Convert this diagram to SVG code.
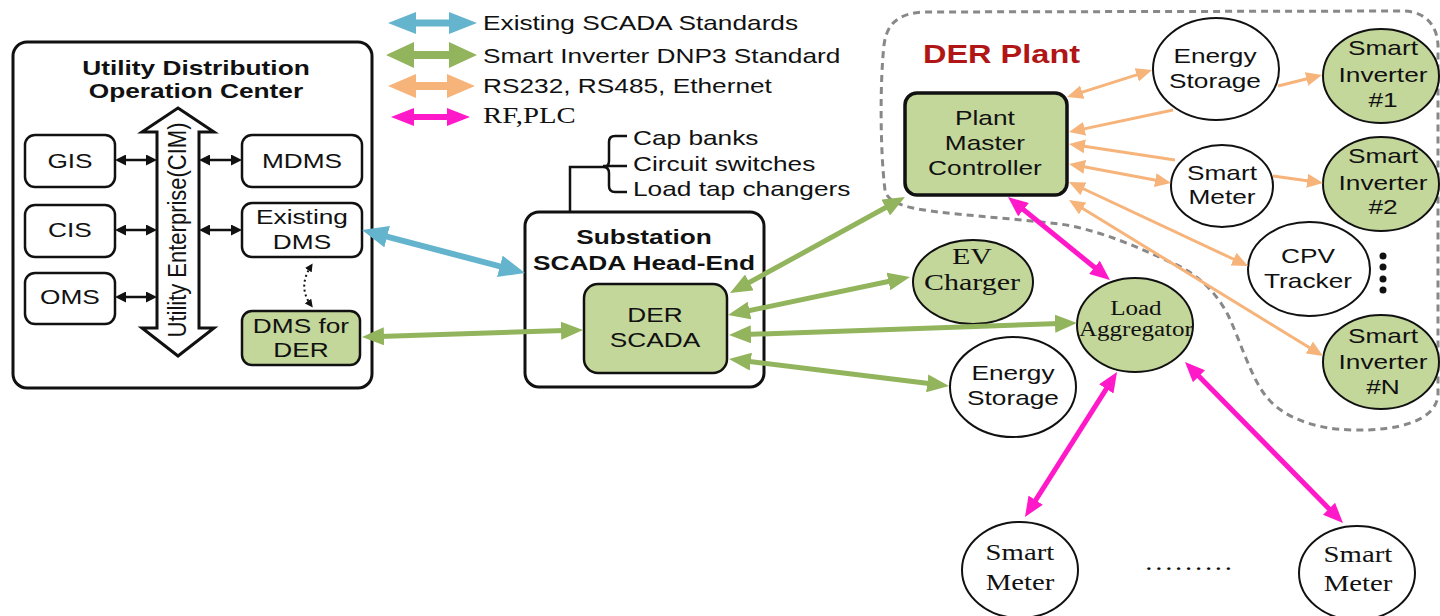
<svg xmlns="http://www.w3.org/2000/svg" width="1440" height="616" viewBox="0 0 1440 616">
<style>
.t{font-family:"Liberation Sans",Arial,sans-serif;font-size:21px;fill:#111;text-anchor:middle}
.l{text-anchor:start}
.b{font-weight:bold}
.sf{font-family:"Liberation Serif","Times New Roman",serif}
.sx{transform:scaleX(1.25);transform-box:fill-box;transform-origin:center}
.sxl{transform:scaleX(1.25);transform-box:fill-box;transform-origin:left center}
.box{fill:#fff;stroke:#111;stroke-width:2.5}
.gbox{fill:#c4d79b;stroke:#111;stroke-width:2.5}
.ell{fill:#fff;stroke:#111;stroke-width:2}
.gell{fill:#c4d79b;stroke:#111;stroke-width:2}
.blue{stroke:#64b4cd;stroke-width:6;fill:none;marker-start:url(#mb);marker-end:url(#mb)}
.green{stroke:#92b45c;stroke-width:5;fill:none;marker-start:url(#mg);marker-end:url(#mg)}
.or{stroke:#f6b47b;stroke-width:3;fill:none;marker-end:url(#mo)}
.or2{marker-start:url(#mo)}
.mag{stroke:#ff19c8;stroke-width:5;fill:none;marker-start:url(#mm);marker-end:url(#mm)}
.blk{stroke:#111;stroke-width:2.5;fill:none;marker-start:url(#mk);marker-end:url(#mk)}
</style>
<defs>
<marker id="mb" markerUnits="userSpaceOnUse" markerWidth="26" markerHeight="22" viewBox="0 0 26 22" refX="14" refY="11" orient="auto-start-reverse"><path d="M0,0 L26,11 L0,22 Z" fill="#64b4cd"/></marker>
<marker id="mg" markerUnits="userSpaceOnUse" markerWidth="22" markerHeight="18" viewBox="0 0 22 18" refX="12" refY="9" orient="auto-start-reverse"><path d="M0,0 L22,9 L0,18 Z" fill="#92b45c"/></marker>
<marker id="mo" markerUnits="userSpaceOnUse" markerWidth="16" markerHeight="14" viewBox="0 0 16 14" refX="9" refY="7" orient="auto-start-reverse"><path d="M0,0 L16,7 L0,14 Z" fill="#f6b47b"/></marker>
<marker id="mm" markerUnits="userSpaceOnUse" markerWidth="20" markerHeight="17" viewBox="0 0 20 17" refX="11" refY="8.5" orient="auto-start-reverse"><path d="M0,0 L20,8.5 L0,17 Z" fill="#ff19c8"/></marker>
<marker id="mk" markerUnits="userSpaceOnUse" markerWidth="11" markerHeight="11" viewBox="0 0 11 11" refX="6" refY="5.5" orient="auto-start-reverse"><path d="M0,0 L11,5.5 L0,11 Z" fill="#111"/></marker>
<marker id="md" markerUnits="userSpaceOnUse" markerWidth="8" markerHeight="8" viewBox="0 0 8 8" refX="5" refY="4" orient="auto-start-reverse"><path d="M0,0 L8,4 L0,8 Z" fill="#111"/></marker>
</defs>
<rect width="1440" height="616" fill="#fff"/>

<g id="legend">
<polygon fill="#64b4cd" points="388,23 416,12 416,19.5 449,19.5 449,12 477,23 449,34 449,26.5 416,26.5 416,34"/>
<polygon fill="#92b45c" points="386,55 414,42 414,51 449,51 449,42 477,55 449,68 449,59 414,59 414,68"/>
<polygon fill="#f6b47b" points="388,86 416,74 416,82 447,82 447,74 475,86 447,98 447,90 416,90 416,98"/>
<polygon fill="#ff19c8" points="391,117 414,108 414,114 447,114 447,108 470,117 447,126 447,120 414,120 414,126"/>
<text class="t l sxl" x="483" y="30">Existing SCADA Standards</text>
<text class="t l sxl" x="483" y="63">Smart Inverter DNP3 Standard</text>
<text class="t l sxl" x="483" y="93">RS232, RS485, Ethernet</text>
<text class="t l sf sxl" x="483" y="123" style="font-size:23px">RF,PLC</text>
</g>

<g id="der-plant-boundary">
<path d="M885,190 C880,150 880,80 884,45 C887,22 900,13 925,12 L1405,11 C1425,12 1437,25 1438,45 L1438,395 C1436,420 1400,431 1353,430 C1310,429 1280,415 1265,395 C1250,375 1240,340 1228,315 C1215,290 1195,272 1170,262 C1140,248 1100,230 1060,224 C1010,218 940,214 913,208 C895,204 886,198 885,190 Z" fill="none" stroke="#888" stroke-width="3" stroke-dasharray="7 5"/>
<text class="t l b sxl" x="923" y="63" style="font-size:26px;fill:#b11616">DER Plant</text>
</g>

<g id="utility-center">
<rect x="13" y="42" width="359" height="346" rx="14" fill="#fff" stroke="#111" stroke-width="3"/>
<text class="t b sx" x="196" y="75">Utility Distribution</text>
<text class="t b sx" x="196" y="98">Operation Center</text>
</g>
<g id="enterprise-bus">
<polygon points="178,108 214,132 199,132 199,328 214,328 178,356 142,328 157,328 157,132 142,132" fill="#fff" stroke="#111" stroke-width="3" stroke-linejoin="miter"/>
<text class="t" transform="translate(186,230) rotate(-90) scale(1,1.2)" x="0" y="0" style="font-size:22px">Utility Enterprise(CIM)</text>
</g>
<g id="gis"><rect class="box" x="25" y="135" width="90" height="52" rx="10"/><text class="t sx" x="70" y="168">GIS</text></g>
<g id="cis"><rect class="box" x="25" y="205" width="90" height="52" rx="10"/><text class="t sx" x="70" y="237">CIS</text></g>
<g id="oms"><rect class="box" x="25" y="273" width="90" height="51" rx="10"/><text class="t sx" x="70" y="304">OMS</text></g>
<g id="mdms"><rect class="box" x="242" y="135" width="120" height="52" rx="10"/><text class="t sx" x="302" y="168">MDMS</text></g>
<g id="existing-dms"><rect class="box" x="242" y="203" width="120" height="54" rx="10"/><text class="t sx" x="302" y="224">Existing</text><text class="t sx" x="302" y="249">DMS</text></g>
<g id="dms-for-der"><rect class="gbox" x="242" y="311" width="118" height="54" rx="10"/><text class="t sx" x="301" y="333">DMS for</text><text class="t sx" x="301" y="357">DER</text></g>

<g id="substation">
<rect x="525" y="212" width="239" height="175" rx="14" fill="#fff" stroke="#111" stroke-width="3"/>
<text class="t b sx" x="644" y="244">Substation</text>
<text class="t b sx" x="644" y="270">SCADA Head-End</text>
</g>
<g id="der-scada"><rect class="gbox" x="584" y="284" width="143" height="89" rx="14"/><text class="t sx" x="655" y="322">DER</text><text class="t sx" x="655" y="347">SCADA</text></g>

<g id="field-devices">
<path d="M570,212 L570,167 L603,167 M627,136 L615,136 Q609,136 609,142 L609,161 Q609,167 603,167 Q609,167 609,173 L609,186 Q609,192 615,192 L627,192 M603,166 L627,166" fill="none" stroke="#111" stroke-width="2.5"/>
<text class="t l sxl" x="633" y="145">Cap banks</text>
<text class="t l sxl" x="633" y="171">Circuit switches</text>
<text class="t l sxl" x="633" y="196">Load tap changers</text>
</g>

<g id="plant-master-controller"><rect x="905" y="93" width="162" height="102" rx="12" fill="#c4d79b" stroke="#111" stroke-width="3.5"/><text class="t sx" x="985" y="125">Plant</text><text class="t sx" x="985" y="150">Master</text><text class="t sx" x="985" y="175">Controller</text></g>
<g id="energy-storage-plant"><ellipse class="ell" cx="1216" cy="69" rx="63" ry="51"/><text class="t sx" x="1215" y="63">Energy</text><text class="t sx" x="1215" y="88">Storage</text></g>
<g id="smart-inverter-1"><ellipse class="gell" cx="1381" cy="76" rx="58" ry="47"/><text class="t sx" x="1383" y="55">Smart</text><text class="t sx" x="1383" y="82">Inverter</text><text class="t sx" x="1383" y="107">#1</text></g>
<g id="smart-meter-plant"><ellipse class="ell" cx="1222" cy="186" rx="51" ry="41"/><text class="t sx" x="1222" y="180">Smart</text><text class="t sx" x="1222" y="204">Meter</text></g>
<g id="smart-inverter-2"><ellipse class="gell" cx="1381" cy="184" rx="58" ry="47"/><text class="t sx" x="1383" y="163">Smart</text><text class="t sx" x="1383" y="190">Inverter</text><text class="t sx" x="1383" y="214">#2</text></g>
<g id="cpv-tracker"><ellipse class="ell" cx="1309" cy="269" rx="61" ry="47"/><text class="t sx" x="1308" y="263">CPV</text><text class="t sx" x="1308" y="288">Tracker</text></g>
<g id="ellipsis-dots" fill="#111"><circle cx="1383" cy="256" r="3.5"/><circle cx="1383" cy="267" r="3.5"/><circle cx="1383" cy="279" r="3.5"/><circle cx="1383" cy="290" r="3.5"/></g>
<g id="smart-inverter-n"><ellipse class="gell" cx="1381" cy="362" rx="58" ry="47"/><text class="t sx" x="1383" y="343">Smart</text><text class="t sx" x="1383" y="369">Inverter</text><text class="t sx" x="1383" y="394">#N</text></g>

<g id="ev-charger"><ellipse class="gell" cx="973" cy="282" rx="60" ry="42"/><text class="t sf sx" x="972" y="264" style="font-size:24px">EV</text><text class="t sf sx" x="972" y="290" style="font-size:24px">Charger</text></g>
<g id="load-aggregator"><ellipse class="gell" cx="1135" cy="325" rx="58" ry="47"/><text class="t sf sx" x="1136" y="315" style="font-size:20px">Load</text><text class="t sf sx" x="1136" y="336" style="font-size:20px">Aggregator</text></g>
<g id="energy-storage"><ellipse class="ell" cx="1013" cy="387" rx="63" ry="50"/><text class="t sx" x="1013" y="380">Energy</text><text class="t sx" x="1013" y="405">Storage</text></g>
<g id="smart-meter-1"><ellipse class="ell" cx="1020" cy="570" rx="58" ry="48"/><text class="t sf sx" x="1020" y="560" style="font-size:23px">Smart</text><text class="t sf sx" x="1020" y="590" style="font-size:23px">Meter</text></g>
<g id="smart-meter-n"><ellipse class="ell" cx="1357" cy="573" rx="58" ry="47"/><text class="t sf sx" x="1358" y="562" style="font-size:23px">Smart</text><text class="t sf sx" x="1358" y="591" style="font-size:23px">Meter</text></g>
<text class="t sf sx" x="1190" y="570" style="font-size:23px;letter-spacing:2.2px">.........</text>

<g id="connectors">
<line class="blk" x1="120" y1="160" x2="152" y2="160"/>
<line class="blk" x1="120" y1="230" x2="152" y2="230"/>
<line class="blk" x1="120" y1="297" x2="152" y2="297"/>
<line class="blk" x1="204" y1="160" x2="237" y2="160"/>
<line class="blk" x1="204" y1="230" x2="237" y2="230"/>
<path d="M311,266 C302,280 302,293 311,305" fill="none" stroke="#111" stroke-width="2" stroke-dasharray="2 3" marker-start="url(#md)" marker-end="url(#md)"/>
<line class="blue" x1="373.6" y1="233.1" x2="513.4" y2="269.9"/>
<line class="green" x1="372" y1="336.7" x2="573" y2="330.3"/>
<line class="green" x1="738.8" y1="288.2" x2="896.2" y2="201.8"/>
<line class="green" x1="737.8" y1="313" x2="900.2" y2="279"/>
<line class="green" x1="739" y1="334.7" x2="1067" y2="323.3"/>
<line class="green" x1="738.9" y1="360.2" x2="939.1" y2="384.8"/>
<line class="or or2" x1="1073.7" y1="94.9" x2="1145.3" y2="72.1"/>
<line class="or" x1="1173" y1="110" x2="1075.8" y2="130.6"/>
<line class="or" x1="1278" y1="86" x2="1315.2" y2="76.7"/>
<line class="or" x1="1175" y1="160" x2="1075.9" y2="145"/>
<line class="or or2" x1="1075.9" y1="165.3" x2="1164.1" y2="181.7"/>
<line class="or" x1="1273" y1="176" x2="1316.1" y2="182"/>
<line class="or or2" x1="1075.3" y1="185" x2="1241.7" y2="263"/>
<line class="or or2" x1="1075" y1="203.7" x2="1317" y2="352.3"/>
<line class="mag" x1="1015" y1="202.7" x2="1103" y2="274.3"/>
<line class="mag" x1="1112.2" y1="379.6" x2="1029.8" y2="509.4"/>
<line class="mag" x1="1191.3" y1="368.4" x2="1336.7" y2="516.6"/>
</g>
</svg>
